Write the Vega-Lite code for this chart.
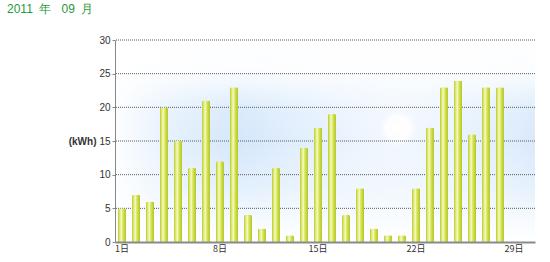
{
  "$schema": "https://vega.github.io/schema/vega-lite/v6.json",
  "width": 420,
  "height": 202,
  "autosize": "none",
  "padding": {"left": 115, "top": 40, "right": 15, "bottom": 20},
  "background": "white",
  "title": {
    "text": "2011\u00a0\u00a0年\u00a0\u00a0\u00a009\u00a0\u00a0月",
    "anchor": "start",
    "frame": "group",
    "dx": -108,
    "dy": -15,
    "font": "Liberation Sans",
    "fontSize": 12,
    "fontWeight": "normal",
    "color": "#1f9a3c"
  },
  "config": {
    "view": {"stroke": null},
    "axis": {"labelFont": "Liberation Sans", "labelColor": "#333", "titleFont": "Liberation Sans"}
  },
  "layer": [
    {
      "data": {"values": [{"panel": "sky"}]},
      "mark": {
        "type": "rect",
        "fill": {
          "gradient": "linear", "x1": 0, "y1": 0, "x2": 0, "y2": 1,
          "stops": [
            {"offset": 0, "color": "#ffffff"},
            {"offset": 0.15, "color": "#fbfdff"},
            {"offset": 0.35, "color": "#d9eafc"},
            {"offset": 0.5, "color": "#d3e6fb"},
            {"offset": 0.72, "color": "#e2effd"},
            {"offset": 0.9, "color": "#f7fbff"},
            {"offset": 1, "color": "#ffffff"}
          ]
        }
      },
      "encoding": {}
    },
    {
      "data": {"values": [{"panel": "fade"}]},
      "mark": {
        "type": "rect",
        "fill": {
          "gradient": "linear", "x1": 0, "y1": 0, "x2": 1, "y2": 0,
          "stops": [
            {"offset": 0, "color": "rgba(255,255,255,0.95)"},
            {"offset": 0.12, "color": "rgba(255,255,255,0.45)"},
            {"offset": 0.3, "color": "rgba(255,255,255,0)"},
            {"offset": 0.8, "color": "rgba(255,255,255,0.1)"},
            {"offset": 1, "color": "rgba(255,255,255,0)"}
          ]
        }
      },
      "encoding": {}
    },
    {
      "data": {"values": [{"panel": "glow"}]},
      "mark": {
        "type": "rect",
        "fill": {
          "gradient": "radial", "x1": 0.674, "y1": 0.47, "r1": 0, "x2": 0.674, "y2": 0.47, "r2": 0.4,
          "stops": [
            {"offset": 0, "color": "rgba(255,255,255,1)"},
            {"offset": 0.07, "color": "rgba(255,255,255,0.95)"},
            {"offset": 0.11, "color": "rgba(255,255,255,0.65)"},
            {"offset": 0.4, "color": "rgba(255,255,255,0.45)"},
            {"offset": 1, "color": "rgba(255,255,255,0)"}
          ]
        }
      },
      "encoding": {}
    },
    {
      "data": {"values": [{"g": 5}, {"g": 10}, {"g": 15}, {"g": 20}, {"g": 25}, {"g": 30}]},
      "mark": {"type": "rule", "color": "#5a5a5a", "strokeDash": [1, 1], "strokeWidth": 1},
      "encoding": {
        "y": {
          "field": "g",
          "type": "quantitative",
          "scale": {"domain": [0, 30], "nice": false},
          "axis": {
            "zindex": 1,
            "values": [0, 5, 10, 15, 20, 25, 30],
            "title": "(kWh)",
            "titleAngle": 0,
            "titleAlign": "right",
            "titleBaseline": "middle",
            "titleX": -19,
            "titleY": 101,
            "titleFontSize": 10,
            "titleFontWeight": "bold",
            "titleColor": "#333",
            "labelFontSize": 10,
            "labelPadding": 2,
            "tickSize": 3,
            "tickColor": "#888",
            "domainColor": "#888",
            "grid": false
          }
        }
      }
    },
    {
      "data": {
        "values": [
          {"day": 1, "kwh": 5}, {"day": 2, "kwh": 7}, {"day": 3, "kwh": 6}, {"day": 4, "kwh": 20},
          {"day": 5, "kwh": 15}, {"day": 6, "kwh": 11}, {"day": 7, "kwh": 21}, {"day": 8, "kwh": 12},
          {"day": 9, "kwh": 23}, {"day": 10, "kwh": 4}, {"day": 11, "kwh": 2}, {"day": 12, "kwh": 11},
          {"day": 13, "kwh": 1}, {"day": 14, "kwh": 14}, {"day": 15, "kwh": 17}, {"day": 16, "kwh": 19},
          {"day": 17, "kwh": 4}, {"day": 18, "kwh": 8}, {"day": 19, "kwh": 2}, {"day": 20, "kwh": 1},
          {"day": 21, "kwh": 1}, {"day": 22, "kwh": 8}, {"day": 23, "kwh": 17}, {"day": 24, "kwh": 23},
          {"day": 25, "kwh": 24}, {"day": 26, "kwh": 16}, {"day": 27, "kwh": 23}, {"day": 28, "kwh": 23}
        ]
      },
      "mark": {
        "type": "bar",
        "cornerRadiusTopLeft": 1.5,
        "cornerRadiusTopRight": 1.5,
        "fill": {
          "gradient": "linear", "x1": 0, "y1": 0, "x2": 1, "y2": 0,
          "stops": [
            {"offset": 0, "color": "#b9cb26"},
            {"offset": 0.22, "color": "#e0eb78"},
            {"offset": 0.42, "color": "#f4f8c6"},
            {"offset": 0.62, "color": "#d6e558"},
            {"offset": 1, "color": "#b3c520"}
          ]
        }
      },
      "encoding": {
        "x": {
          "field": "day",
          "type": "ordinal",
          "scale": {
            "domain": [1,2,3,4,5,6,7,8,9,10,11,12,13,14,15,16,17,18,19,20,21,22,23,24,25,26,27,28,29,30],
            "paddingInner": 0.43,
            "paddingOuter": 0.215
          },
          "axis": {
            "title": null,
            "zindex": 1,
            "values": [1, 8, 15, 22, 29],
            "labelExpr": "datum.value + '日'",
            "labelAngle": 0,
            "labelFont": "Noto Sans CJK JP",
            "labelFontSize": 9,
            "labelPadding": 2,
            "ticks": false,
            "domainColor": "#8a8a8a",
            "domainWidth": 2,
            "grid": false
          }
        },
        "y": {
          "field": "kwh",
          "type": "quantitative",
          "scale": {"domain": [0, 30], "nice": false},
          "axis": {
            "zindex": 1,
            "values": [0, 5, 10, 15, 20, 25, 30],
            "title": "(kWh)",
            "titleAngle": 0,
            "titleAlign": "right",
            "titleBaseline": "middle",
            "titleX": -19,
            "titleY": 101,
            "titleFontSize": 10,
            "titleFontWeight": "bold",
            "titleColor": "#333",
            "labelFontSize": 10,
            "labelPadding": 2,
            "tickSize": 3,
            "tickColor": "#888",
            "domainColor": "#888",
            "grid": false
          }
        }
      }
    }
  ]
}
